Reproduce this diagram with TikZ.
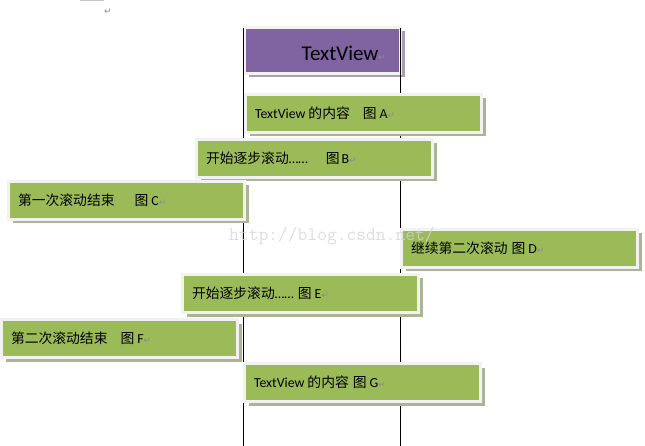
\documentclass[tikz,border=0pt]{standalone}
\usepackage{fontspec}
\setmainfont{Carlito}
\newfontfamily\cjk{Noto Sans CJK SC}
\newfontfamily\symfont{DejaVu Sans}
\usetikzlibrary{positioning,shadows}
\definecolor{tvgreen}{RGB}{155,187,89}
\definecolor{tvpurple}{RGB}{128,100,162}
\definecolor{tvframe}{RGB}{242,242,242}
\definecolor{tvshadeg}{RGB}{172,180,150}
\definecolor{tvshadep}{RGB}{165,158,180}
\definecolor{tvmark}{RGB}{140,140,140}
\definecolor{tvwater}{RGB}{212,212,212}
\newcommand{\retmark}{{\symfont\fontsize{9}{9}\selectfont\color{tvmark}↵}}

\begin{document}
\begin{tikzpicture}[x=1pt,y=-1pt,
    stepbar/.style={anchor=north west,fill=tvgreen,draw=tvframe,line width=3pt,
      minimum width=236pt,minimum height=38pt,inner xsep=9.5pt,inner ysep=0pt,
      text width=217pt,align=left,font=\fontsize{13.8}{16}\selectfont,
      drop shadow={shadow xshift=4pt,shadow yshift=-4pt,fill=tvshadeg,opacity=1}},
    viewbar/.style={stepbar,fill=tvpurple,minimum width=156pt,minimum height=46pt,
      inner xsep=14.5pt,text width=127pt,align=right,font=\fontsize{21}{24}\selectfont,
      drop shadow={shadow xshift=4pt,shadow yshift=-4pt,fill=tvshadep,opacity=1}}]
  \useasboundingbox (0,0) rectangle (645,446);
  % marks of the editor, top left
  \fill[tvmark!50] (80,0) rectangle (104,1.5);
  \node[inner sep=0] (pmark) at (108,12) {\retmark};
  % the view itself
  \node[viewbar] (view) at (243,26) {\raisebox{-10.5pt}[0pt][0pt]{TextView\retmark}};
  % borders of the view
  \coordinate (lt) at (243.5,28); \coordinate (lb) at (243.5,446);
  \coordinate (rt) at (400.5,28); \coordinate (rb) at (400.5,446);
  \draw[line width=1.1pt] (lt) -- (lb);
  \draw[line width=1.1pt] (rt) -- (rb);
  % the steps
  \node[stepbar] (figA) at (244,93)  {TextView\hspace{3pt}{\cjk 的内容}\hspace{13pt}{\cjk 图}\hspace{3pt}A\retmark};
  \node[stepbar] (figB) at (195,138) {{\cjk 开始逐步滚动}……\hspace{18pt}{\cjk 图}\hspace{2pt}B\retmark};
  \node[stepbar] (figC) at (7,180)   {{\cjk 第一次滚动结束}\hspace{20pt}{\cjk 图}\hspace{3pt}C\retmark};
  \node[stepbar] (figD) at (400,228) {{\cjk 继续第二次滚动}\hspace{4pt}{\cjk 图}\hspace{3pt}D\retmark};
  \node[stepbar] (figE) at (181,273) {{\cjk 开始逐步滚动}……\hspace{4pt}{\cjk 图}\hspace{3pt}E\retmark};
  \node[stepbar] (figF) at (0,318)   {{\cjk 第二次滚动结束}\hspace{13pt}{\cjk 图}\hspace{3pt}F\retmark};
  \node[stepbar] (figG) at (243,362) {TextView\hspace{3pt}{\cjk 的内容}\hspace{4pt}{\cjk 图}\hspace{3pt}G\retmark};
  % watermark
  \node[anchor=base west,inner sep=0,text=tvwater,opacity=.8,
    font=\ttfamily\fontsize{19}{19}\selectfont] (wmark) at (229,241) {http://blog.csdn.net/};
\end{tikzpicture}
\end{document}
